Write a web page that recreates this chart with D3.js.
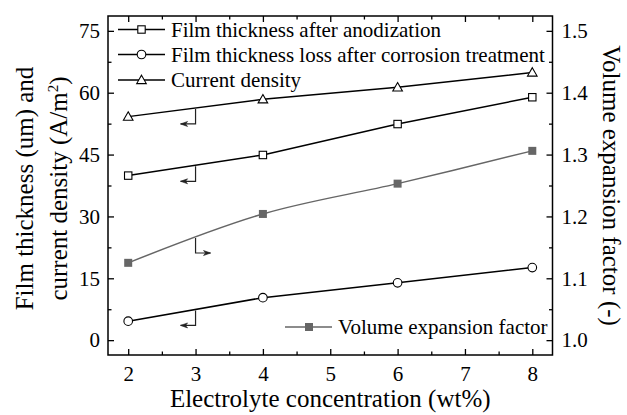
<!DOCTYPE html>
<html><head><meta charset="utf-8">
<script src="https://cdn.jsdelivr.net/npm/d3@7"></script>
<style>body{margin:0;background:#fff}</style>
</head><body><svg id="c" width="627" height="415"></svg>
<script>
const concentration=[2,4,6,8];
const thicknessAnod=[39.9,44.9,52.4,58.9];
const thicknessLoss=[4.6,10.3,13.9,17.6];
const currentDensity=[54.2,58.4,61.3,64.9];
const volumeExpansion=[1.125,1.204,1.253,1.306];
const xTicks=[2,3,4,5,6,7,8];
const xMinor=[2.5,3.5,4.5,5.5,6.5,7.5];
const yLeftTicks=[0,15,30,45,60,75];
const yLeftMinor=[7.5,22.5,37.5,52.5,67.5];
const yRightTicks=[1.0,1.1,1.2,1.3,1.4,1.5];
const yRightMinor=[1.05,1.15,1.25,1.35,1.45];
const legendTop=["Film thickness after anodization","Film thickness loss after corrosion treatment","Current density"];
const legendBottom="Volume expansion factor";

const FONT="Liberation Serif";
const L=108,R=552.5,T=16,B=355;
const svg=d3.select("#c");
const x=d3.scaleLinear().domain([1.7,8.3]).range([L,R]);
const yL=d3.scaleLinear().domain([-3.6,78.6]).range([B,T]);
const yR=d3.scaleLinear().domain([1-3.6/150,1+78.6/150]).range([B,T]);
const gray="#666";
const fs=21, tfs=25;

function txt(sel,size){return sel.style("font-family",FONT).style("font-size",size+"px").attr("fill","#000");}
function styleAxis(g){g.attr("font-family",null).attr("font-size",null);g.select(".domain").remove();g.selectAll("line").attr("stroke","#000").attr("stroke-width",1.3);txt(g.selectAll("text"),fs);}
svg.append("g").attr("transform",`translate(0,${B})`).call(d3.axisBottom(x).tickValues(xTicks).tickSize(-6).tickPadding(11).tickFormat(d3.format("d"))).call(styleAxis);
svg.append("g").attr("transform",`translate(0,${B})`).call(d3.axisBottom(x).tickValues(xMinor).tickSize(-3.5).tickFormat("")).call(styleAxis);
svg.append("g").attr("transform",`translate(0,${T})`).call(d3.axisTop(x).tickValues(xTicks).tickSize(-6).tickFormat("")).call(styleAxis);
svg.append("g").attr("transform",`translate(0,${T})`).call(d3.axisTop(x).tickValues(xMinor).tickSize(-3.5).tickFormat("")).call(styleAxis);
svg.append("g").attr("transform",`translate(${L},0)`).call(d3.axisLeft(yL).tickValues(yLeftTicks).tickSize(-6).tickPadding(8).tickFormat(d3.format("d"))).call(styleAxis);
svg.append("g").attr("transform",`translate(${L},0)`).call(d3.axisLeft(yL).tickValues(yLeftMinor).tickSize(-3.5).tickFormat("")).call(styleAxis);
svg.append("g").attr("transform",`translate(${R},0)`).call(d3.axisRight(yR).tickValues(yRightTicks).tickSize(-6).tickPadding(9).tickFormat(d3.format(".1f"))).call(styleAxis);
svg.append("g").attr("transform",`translate(${R},0)`).call(d3.axisRight(yR).tickValues(yRightMinor).tickSize(-3.5).tickFormat("")).call(styleAxis);

svg.append("rect").attr("x",L).attr("y",T).attr("width",R-L).attr("height",B-T).attr("fill","none").attr("stroke","#000").attr("stroke-width",1.5);

const lineL=d3.line().x((d,i)=>x(concentration[i])).y(d=>yL(d));
const lineR=d3.line().x((d,i)=>x(concentration[i])).y(d=>yR(d)).curve(d3.curveCatmullRom.alpha(0.5));
const series=[{v:thicknessAnod,m:"square"},{v:thicknessLoss,m:"circle"},{v:currentDensity,m:"triangle"}];

function marker(g,type,cx,cy,fill,stroke){
  if(type==="square") g.append("rect").attr("x",cx-3.7).attr("y",cy-3.7).attr("width",7.4).attr("height",7.4).attr("fill",fill).attr("stroke",stroke).attr("stroke-width",1.1);
  else if(type==="circle") g.append("circle").attr("cx",cx).attr("cy",cy).attr("r",4.3).attr("fill",fill).attr("stroke",stroke).attr("stroke-width",1.1);
  else if(type==="triangle") g.append("path").attr("d",`M${cx},${cy-4.8}L${cx+4.8},${cy+3.6}L${cx-4.8},${cy+3.6}Z`).attr("fill",fill).attr("stroke",stroke).attr("stroke-width",1.1);
}
const volPath=svg.append("path").attr("d",lineR(volumeExpansion)).attr("fill","none").attr("stroke",gray).attr("stroke-width",1.5);
volumeExpansion.forEach((v,i)=>svg.append("rect").attr("x",x(concentration[i])-4).attr("y",yR(v)-4).attr("width",8).attr("height",8).attr("fill",gray));
series.forEach(s=>{
  svg.append("path").attr("d",lineL(s.v)).attr("fill","none").attr("stroke","#000").attr("stroke-width",1.5);
  s.v.forEach((v,i)=>marker(svg,s.m,x(concentration[i]),yL(v),"#fff","#000"));
});

function arrow(x0,y0,dir,color){
  const y1=y0+15, x1=x0+dir*15;
  svg.append("path").attr("d",`M${x0},${y0}V${y1}H${x1}`).attr("fill","none").attr("stroke",color).attr("stroke-width",1.2);
  svg.append("path").attr("d",`M${x1},${y1}L${x1-dir*7},${y1-2.5}L${x1-dir*5},${y1}L${x1-dir*7},${y1+2.5}Z`).attr("fill",color).attr("stroke",color).attr("stroke-width",0.6);
}
const xa=x(3);
series.forEach(s=>{arrow(xa,yL((s.v[0]+s.v[1])/2)+1,-1,"#222");});
(function(){const n=volPath.node(),len=n.getTotalLength();let lo=0,hi=len;for(let k=0;k<40;k++){const m=(lo+hi)/2;if(n.getPointAtLength(m).x<xa)lo=m;else hi=m;}arrow(xa,n.getPointAtLength(lo).y+1,1,"#222");})();

const ly=[29.5,54.5,80];
series.forEach((s,i)=>{
  svg.append("line").attr("x1",118).attr("x2",165).attr("y1",ly[i]).attr("y2",ly[i]).attr("stroke","#000").attr("stroke-width",1.5);
  marker(svg,s.m,141.5,ly[i],"#fff","#000");
  txt(svg.append("text").attr("x",171).attr("y",ly[i]+7),fs).text(legendTop[i]);
});
svg.append("line").attr("x1",285).attr("x2",332).attr("y1",327).attr("y2",327).attr("stroke",gray).attr("stroke-width",1.5);
svg.append("rect").attr("x",309-4).attr("y",327-4).attr("width",8).attr("height",8).attr("fill",gray);
txt(svg.append("text").attr("x",338).attr("y",334),fs).text(legendBottom);

txt(svg.append("text").attr("x",(L+R)/2).attr("y",407).attr("text-anchor","middle"),tfs).text("Electrolyte concentration (wt%)");
const lt=svg.append("g").attr("transform",`translate(0,${(T+B)/2+3}) rotate(-90)`);
txt(lt.append("text").attr("x",0).attr("y",33).attr("text-anchor","middle"),tfs).text("Film thickness (um) and");
const t2=txt(lt.append("text").attr("x",0).attr("y",67).attr("text-anchor","middle"),tfs);
t2.append("tspan").text("current density (A/m");
t2.append("tspan").attr("dy",-9).style("font-size","15px").text("2");
t2.append("tspan").attr("dy",9).text(")");
txt(svg.append("text").attr("transform",`translate(603,${(T+B)/2}) rotate(90)`).attr("text-anchor","middle"),tfs).text("Volume expansion factor (-)");
</script></body></html>
